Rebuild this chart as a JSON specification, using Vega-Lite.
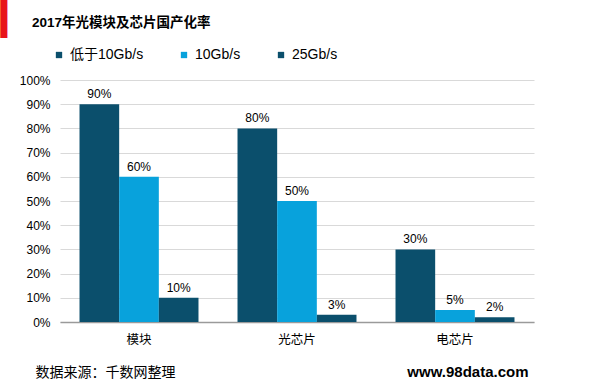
{
  "$schema": "https://vega.github.io/schema/vega-lite/v6.json",
  "width": 474,
  "height": 242,
  "autosize": "none",
  "padding": {"left": 60, "top": 80, "right": 66, "bottom": 63},
  "background": "white",
  "view": {"stroke": null},
  "title": {
    "text": "2017年光模块及芯片国产化率",
    "anchor": "start",
    "frame": "group",
    "font": "Liberation Sans, Noto Sans CJK SC",
    "fontSize": 13.5,
    "fontWeight": "bold",
    "color": "#000000",
    "dx": -28,
    "offset": -30
  },
  "data": {
    "values": [
      {"category": "模块", "type": "低于10Gb/s", "value": 0.90},
      {"category": "模块", "type": "10Gb/s", "value": 0.60},
      {"category": "模块", "type": "25Gb/s", "value": 0.10},
      {"category": "光芯片", "type": "低于10Gb/s", "value": 0.80},
      {"category": "光芯片", "type": "10Gb/s", "value": 0.50},
      {"category": "光芯片", "type": "25Gb/s", "value": 0.03},
      {"category": "电芯片", "type": "低于10Gb/s", "value": 0.30},
      {"category": "电芯片", "type": "10Gb/s", "value": 0.05},
      {"category": "电芯片", "type": "25Gb/s", "value": 0.02}
    ]
  },
  "encoding": {
    "x": {
      "field": "category",
      "type": "nominal",
      "sort": ["模块", "光芯片", "电芯片"],
      "scale": {"paddingInner": 0.247, "paddingOuter": 0.1235},
      "axis": {
        "labelAngle": 0,
        "labelFont": "Noto Sans CJK SC",
        "labelFontSize": 12.5,
        "labelColor": "#000000",
        "labelPadding": 11,
        "ticks": false,
        "domainColor": "#9a9a9a",
        "domainWidth": 1.5,
        "title": "数据来源：千数网整理",
        "titleFont": "Noto Sans CJK SC",
        "titleFontSize": 14,
        "titleFontWeight": "normal",
        "titleColor": "#000000",
        "titleX": -25,
        "titleY": 50,
        "titleAlign": "left",
        "titleBaseline": "middle"
      }
    },
    "xOffset": {
      "field": "type",
      "type": "nominal",
      "sort": ["低于10Gb/s", "10Gb/s", "25Gb/s"],
      "scale": {"paddingInner": 0, "paddingOuter": 0}
    }
  },
  "layer": [
    {
      "mark": {"type": "bar"},
      "encoding": {
        "y": {
          "field": "value",
          "type": "quantitative",
          "scale": {"domain": [0, 1]},
          "axis": {
            "values": [0, 0.1, 0.2, 0.3, 0.4, 0.5, 0.6, 0.7, 0.8, 0.9, 1],
            "format": ".0%",
            "labelFont": "Liberation Sans",
            "labelFontSize": 12,
            "labelColor": "#000000",
            "labelPadding": 10,
            "ticks": false,
            "domain": false,
            "gridColor": "#d9d9d9",
            "gridWidth": 1.2,
            "title": "www.98data.com",
            "titleFont": "Liberation Sans",
            "titleFontSize": 15,
            "titleFontWeight": "bold",
            "titleColor": "#000000",
            "titleAngle": 0,
            "titleX": 468,
            "titleY": 291,
            "titleAlign": "right",
            "titleBaseline": "middle"
          }
        },
        "color": {
          "field": "type",
          "type": "nominal",
          "sort": ["低于10Gb/s", "10Gb/s", "25Gb/s"],
          "scale": {"domain": ["低于10Gb/s", "10Gb/s", "25Gb/s"], "range": ["#0b4f6c", "#08a2dc", "#0b4f6c"]},
          "legend": {
            "title": null,
            "orient": "none",
            "direction": "horizontal",
            "legendX": -8,
            "legendY": -32,
            "padding": 0,
            "symbolType": "square",
            "symbolSize": 40,
            "symbolStrokeWidth": 0,
            "labelFont": "Liberation Sans, Noto Sans CJK SC",
            "labelFontSize": 14,
            "labelColor": "#000000",
            "labelOffset": 4,
            "columnPadding": 33
          }
        }
      }
    },
    {
      "mark": {"type": "text", "dy": -10, "font": "Liberation Sans", "fontSize": 12, "color": "#000000"},
      "encoding": {
        "y": {
          "field": "value",
          "type": "quantitative",
          "scale": {"domain": [0, 1]},
          "axis": {
            "orient": "right",
            "labels": false,
            "ticks": false,
            "domain": false,
            "grid": false,
            "title": "▎",
            "titleFont": "DejaVu Sans",
            "titleFontSize": 36,
            "titleFontWeight": "normal",
            "titleColor": "#e8141b",
            "titleAngle": 0,
            "titleX": -534,
            "titleY": -80,
            "titleAlign": "left",
            "titleBaseline": "top"
          }
        },
        "text": {"field": "value", "type": "quantitative", "format": ".0%"}
      }
    }
  ],
  "resolve": {"scale": {"y": "independent"}}
}
